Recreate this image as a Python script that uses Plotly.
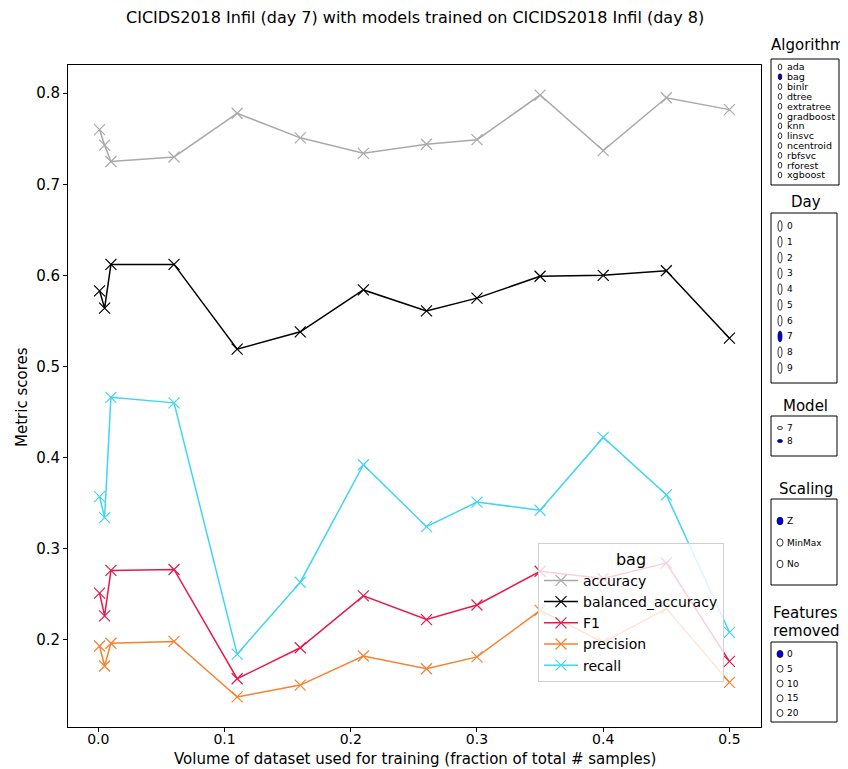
import plotly.graph_objects as go

# ---------------- data ----------------
x_volume = [0.001, 0.005, 0.01, 0.06, 0.11, 0.16, 0.21, 0.26, 0.30, 0.35, 0.40, 0.45, 0.50]
accuracy = [0.760, 0.743, 0.725, 0.730, 0.778, 0.751, 0.734, 0.744, 0.749, 0.798, 0.737, 0.795, 0.782]
balanced_accuracy = [0.583, 0.564, 0.612, 0.612, 0.519, 0.538, 0.584, 0.561, 0.575, 0.599, 0.600, 0.605, 0.531]
f1 = [0.251, 0.226, 0.276, 0.277, 0.157, 0.191, 0.248, 0.222, 0.238, 0.275, 0.267, 0.284, 0.176]
precision = [0.193, 0.171, 0.196, 0.198, 0.137, 0.150, 0.182, 0.168, 0.181, 0.232, 0.197, 0.234, 0.153]
recall = [0.357, 0.334, 0.466, 0.460, 0.184, 0.263, 0.392, 0.324, 0.351, 0.342, 0.422, 0.359, 0.208]

series_names = ["accuracy", "balanced_accuracy", "F1", "precision", "recall"]
series_values = [accuracy, balanced_accuracy, f1, precision, recall]
series_colors = ["#a9a9a9", "#000000", "#e6194B", "#f58231", "#42d4f4"]

x_ticks = [0.0, 0.1, 0.2, 0.3, 0.4, 0.5]
y_ticks = [0.2, 0.3, 0.4, 0.5, 0.6, 0.7, 0.8]

algorithms = ["ada", "bag", "binlr", "dtree", "extratree", "gradboost", "knn",
              "linsvc", "ncentroid", "rbfsvc", "rforest", "xgboost"]
days = ["0", "1", "2", "3", "4", "5", "6", "7", "8", "9"]
models = ["7", "8"]
scalings = ["Z", "MinMax", "No"]
features_removed = ["0", "5", "10", "15", "20"]

selected_algorithm = "bag"
selected_day = "7"
selected_model = "8"
selected_scaling = "Z"
selected_features = "0"

title = "CICIDS2018 Infil (day 7) with models trained on CICIDS2018 Infil (day 8)"

# ---------------- layout geometry ----------------
OFF = 8  # page body margin
W, H = 848 - OFF, 769 - OFF
# plot frame in screen pixels
SL, SR, ST, SB = 68, 761, 65, 727
L, R, T, B = SL - OFF, SR - OFF, ST - OFF, SB - OFF
FONT = "DejaVu Sans"


def px(xs):
    return (xs - SL) / (SR - SL)


def py(ys):
    return (SB - ys) / (SB - ST)


fig = go.Figure()
for name, vals, col in zip(series_names, series_values, series_colors):
    fig.add_trace(go.Scatter(
        x=x_volume, y=vals, name=name, mode="lines+markers",
        line=dict(color=col, width=1.5),
        marker=dict(symbol="x-thin", size=11, line=dict(color=col, width=1.2), color=col),
    ))

shapes = []
annotations = []


def radio_group(title_lines, title_y, box, items, item_ys, selected, ew, eh, fsize, cx=780, tx=786):
    x0, y0, x1, y1 = box
    shapes.append(dict(type="rect", xref="paper", yref="paper",
                       x0=px(x0), x1=px(x1), y0=py(y1), y1=py(y0),
                       line=dict(color="black", width=1), fillcolor="white", layer="above"))
    for tl, ty in zip(title_lines, title_y):
        annotations.append(dict(text=tl, xref="paper", yref="paper",
                                x=px((x0 + x1) / 2 + 2), y=py(ty), showarrow=False,
                                xanchor="center", yanchor="middle",
                                font=dict(family=FONT, size=15, color="black")))
    for it, yy in zip(items, item_ys):
        sel = it == selected
        shapes.append(dict(type="circle", xref="paper", yref="paper",
                           x0=px(cx - ew / 2), x1=px(cx + ew / 2),
                           y0=py(yy + eh / 2), y1=py(yy - eh / 2),
                           line=dict(color="black", width=0.8),
                           fillcolor="blue" if sel else "white", layer="above"))
        annotations.append(dict(text=it, xref="paper", yref="paper",
                                x=px(tx), y=py(yy), showarrow=False,
                                xanchor="left", yanchor="middle", borderpad=0,
                                font=dict(family=FONT, size=fsize, color="black")))


def spaced(y_first, y_last, n):
    if n == 1:
        return [y_first]
    return [y_first + (y_last - y_first) * i / (n - 1) for i in range(n)]


radio_group(["Algorithm"], [45], (771, 59, 839, 185), algorithms,
            spaced(67, 175, len(algorithms)), selected_algorithm, 3.5, 6, 9.5)
radio_group(["Day"], [202], (771, 213, 837, 383), days,
            spaced(226, 368, len(days)), selected_day, 4, 11, 9)
radio_group(["Model"], [406], (771, 416, 837, 456), models,
            spaced(428, 441, len(models)), selected_model, 5, 3, 9)
radio_group(["Scaling"], [489], (771, 499, 837, 585), scalings,
            spaced(521, 564, len(scalings)), selected_scaling, 6, 7.5, 9)
radio_group(["Features", "removed"], [613, 631], (771, 642, 837, 722), features_removed,
            spaced(654, 713, len(features_removed)), selected_features, 6, 7, 9)

annotations.append(dict(text=title, xref="paper", yref="paper",
                        x=px(415), y=py(18), showarrow=False, xanchor="center", yanchor="middle",
                        font=dict(family=FONT, size=16, color="black")))
annotations.append(dict(text="Volume of dataset used for training (fraction of total # samples)",
                        xref="paper", yref="paper", x=px(415), y=py(759), showarrow=False,
                        xanchor="center", yanchor="middle",
                        font=dict(family=FONT, size=15, color="black")))
annotations.append(dict(text="Metric scores", xref="paper", yref="paper",
                        x=px(22), y=py(397), showarrow=False, textangle=-90,
                        xanchor="center", yanchor="middle",
                        font=dict(family=FONT, size=15, color="black")))

fig.update_layout(
    width=W, height=H,
    margin=dict(l=L, r=W - R, t=T, b=H - B, pad=0, autoexpand=False),
    paper_bgcolor="white", plot_bgcolor="white",
    font=dict(family=FONT, size=14, color="black"),
    showlegend=True,
    legend=dict(
        x=px(538), y=py(543), xanchor="left", yanchor="top",
        bgcolor="rgba(255,255,255,0.8)", bordercolor="#d0d0d0", borderwidth=1,
        title=dict(text="bag", side="top center", font=dict(family=FONT, size=16)),
        font=dict(family=FONT, size=14),
        tracegroupgap=0, itemwidth=34,
    ),
    xaxis=dict(
        range=[-0.024, 0.525], tickvals=x_ticks, ticktext=[f"{v:.1f}" for v in x_ticks],
        showgrid=False, zeroline=False, showline=True, linecolor="black", linewidth=1,
        mirror=True, ticks="outside", ticklen=4, tickcolor="black", automargin=False,
        ticklabelstandoff=-5,
        tickfont=dict(family=FONT, size=14),
    ),
    yaxis=dict(
        range=[0.104, 0.831], tickvals=y_ticks, ticktext=[f"{v:.1f}" for v in y_ticks],
        showgrid=False, zeroline=False, showline=True, linecolor="black", linewidth=1,
        mirror=True, ticks="outside", ticklen=4, tickcolor="black", automargin=False,
        tickfont=dict(family=FONT, size=15),
    ),
    shapes=shapes, annotations=annotations,
)

fig.write_html("out.html")
